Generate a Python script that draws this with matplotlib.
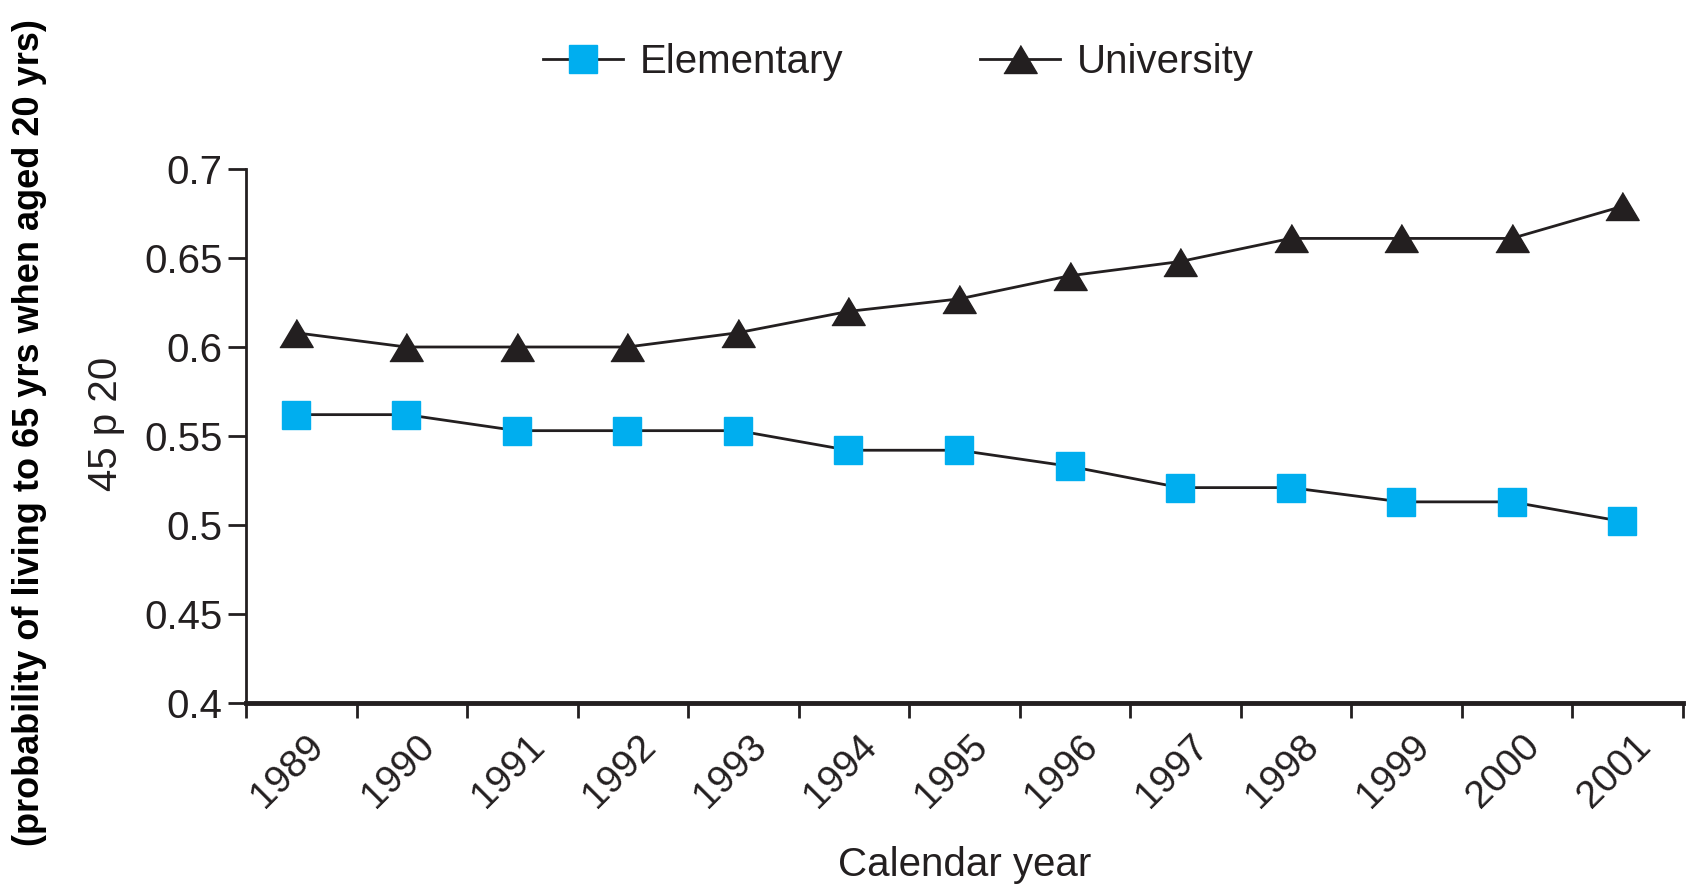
import matplotlib
matplotlib.use("Agg")
import matplotlib.pyplot as plt
import matplotlib.transforms as mtransforms
import numpy as np

plt.rcParams['font.family'] = ['Liberation Sans', 'DejaVu Sans']

years = ['1989', '1990', '1991', '1992', '1993', '1994', '1995',
         '1996', '1997', '1998', '1999', '2000', '2001']
elementary = [0.562, 0.562, 0.553, 0.553, 0.553, 0.542, 0.542,
              0.533, 0.521, 0.521, 0.513, 0.513, 0.502]
university = [0.608, 0.600, 0.600, 0.600, 0.608, 0.620, 0.627,
              0.640, 0.648, 0.661, 0.661, 0.661, 0.679]
yticks = [0.4, 0.45, 0.5, 0.55, 0.6, 0.65, 0.7]

dark = '#231f20'
cyan = '#00aeef'

fig = plt.figure(figsize=(16.9, 8.88), dpi=100)
ax = fig.add_axes([246/1690, 1-703/888, (1683-246)/1690, (703-169)/888])

x = np.arange(len(years))
tri = [(-1, -0.84), (1, -0.84), (0, 0.84)]
ax.plot(x, elementary, color=dark, lw=2, marker='s', ms=20,
        mfc=cyan, mec=cyan, label='Elementary', zorder=3)
ax.plot(x, university, color=dark, lw=2, marker=tri, ms=24,
        mfc=dark, mec=dark, label='University', zorder=3)

# points sit a little left of the middle of each year slot
x0 = -0.45
ax.set_xlim(x0, x0 + len(years))
ax.set_ylim(0.4, 0.7)
ax.set_yticks(yticks)
ax.set_yticklabels(['0.4', '0.45', '0.5', '0.55', '0.6', '0.65', '0.7'])

# boundary ticks only; year labels drawn as rotated texts under each point
ax.set_xticks(x0 + np.arange(len(years) + 1))
ax.set_xticklabels([])
lab_tr = ax.get_xaxis_transform() + mtransforms.ScaledTranslation(
    0.10, -0.25, fig.dpi_scale_trans)
for xi, yr in zip(x, years):
    ax.text(xi, 0, yr, transform=lab_tr, rotation=45, ha='right', va='top',
            rotation_mode='anchor', fontsize=28, color=dark, clip_on=False)

for s in ['top', 'right']:
    ax.spines[s].set_visible(False)
ax.spines['left'].set_color(dark)
ax.spines['left'].set_linewidth(2)
ax.spines['bottom'].set_color(dark)
ax.spines['bottom'].set_linewidth(3.5)

ax.tick_params(axis='y', which='major', length=13, width=2, color=dark,
               labelsize=29, labelcolor=dark, pad=4)
ax.tick_params(axis='x', which='major', length=11, width=2, color=dark)

fig.legend(loc='center', bbox_to_anchor=(898/1690, 1-62/888), ncol=2,
           frameon=False, fontsize=29, handlelength=2.0, handletextpad=0.4,
           columnspacing=3.4, labelcolor=dark)

fig.text(965/1690, 1-865/888, 'Calendar year', ha='center', va='center',
         fontsize=29, color=dark)
fig.text(106/1690, 1-424/888, '45 p 20', rotation=90, ha='center',
         va='center', fontsize=29, color=dark)
fig.text(30/1690, 1-433/888,
         '(probability of living to 65 yrs when aged 20 yrs)',
         rotation=90, ha='center', va='center', fontsize=26,
         fontweight='bold', color='black')

fig.savefig('out.png', dpi=100)
